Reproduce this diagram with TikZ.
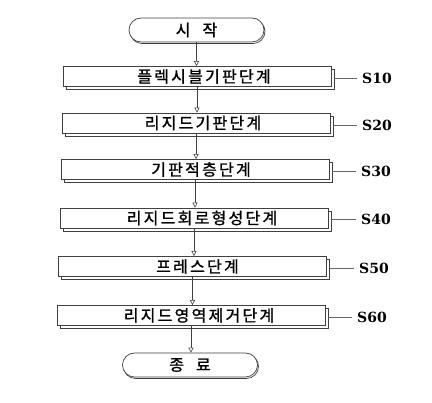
\documentclass[tikz,border=0pt]{standalone}
\usepackage{fontspec}
\newfontfamily\krfont[LetterSpace=14,FakeBold=1.2]{Noto Sans CJK KR}
\newfontfamily\labfont{DejaVu Serif}
\usetikzlibrary{arrows.meta}
\begin{document}
\begin{tikzpicture}[x=1pt,y=-1pt,
  boxline/.style={draw=black!75, line width=0.7pt, fill=white},
  stepbox/.style={boxline, minimum width=268pt, minimum height=20pt, inner sep=0pt,
    font=\krfont\fontsize{16}{16}\selectfont},
  shadowbox/.style={boxline, minimum width=268pt, minimum height=20pt, inner sep=0pt},
  termbox/.style={boxline, rounded corners=12pt, minimum width=135pt, minimum height=24pt,
    inner sep=0pt, font=\krfont\fontsize{16}{16}\selectfont},
  termshadow/.style={boxline, rounded corners=12pt, minimum width=135pt, minimum height=24pt, inner sep=0pt},
  flow/.style={draw=black!75, line width=0.6pt, -{Triangle[open,length=5pt,width=5pt]}},
  leader/.style={draw=black!60, line width=0.5pt, shorten >=5pt},
  steplabel/.style={font=\labfont\bfseries\fontsize{14}{14}\selectfont, inner sep=0pt, anchor=west}]
\useasboundingbox (0,0) rectangle (432,403);

% start terminal
\node[termshadow] (startsh) at (197.5,31.5) {};
\node[termbox] (start) at (196.5,30) {시\hspace{12pt}작};

% steps
\node[shadowbox] (s10sh) at (200,79.5) {};
\node[stepbox] (s10) at (197,76.5) {\hspace*{14pt}플렉시블기판단계};
\node[shadowbox] (s20sh) at (199,126) {};
\node[stepbox] (s20) at (196,123) {\hspace*{14pt}리지드기판단계};
\node[shadowbox] (s30sh) at (198,172.5) {};
\node[stepbox] (s30) at (195,169.5) {\hspace*{12pt}기판적층단계};
\node[shadowbox] (s40sh) at (197,221) {};
\node[stepbox] (s40) at (194,218) {\hspace*{16pt}리지드회로형성단계};
\node[shadowbox] (s50sh) at (195.5,269.5) {};
\node[stepbox] (s50) at (192.5,266.5) {\hspace*{10pt}프레스단계};
\node[shadowbox] (s60sh) at (194,318.5) {};
\node[stepbox] (s60) at (191,315.5) {\hspace*{16pt}리지드영역제거단계};

% end terminal
\node[termshadow] (endsh) at (191,366.5) {};
\node[termbox] (end) at (190,365) {종\hspace{12pt}료};

% labels
\node[steplabel] (l10) at (362,78) {S10};
\node[steplabel] (l20) at (362,125) {S20};
\node[steplabel] (l30) at (361,171) {S30};
\node[steplabel] (l40) at (361,219.5) {S40};
\node[steplabel] (l50) at (359,268) {S50};
\node[steplabel] (l60) at (357,317) {S60};

\foreach \s in {10,20,30,40,50,60}{
  \draw[leader] (s\s sh.east |- l\s.west) -- (l\s.west);
}

% arrows
\draw[flow] (start.south) -- (start.south |- s10.north);
\draw[flow] (s10.south) -- (s10.south |- s20.north);
\draw[flow] (s20.south) -- (s20.south |- s30.north);
\draw[flow] (s30.south) -- (s30.south |- s40.north);
\draw[flow] (s40.south) -- (s40.south |- s50.north);
\draw[flow] (s50.south) -- (s50.south |- s60.north);
\draw[flow] (s60.south) -- (s60.south |- end.north);
\end{tikzpicture}
\end{document}
